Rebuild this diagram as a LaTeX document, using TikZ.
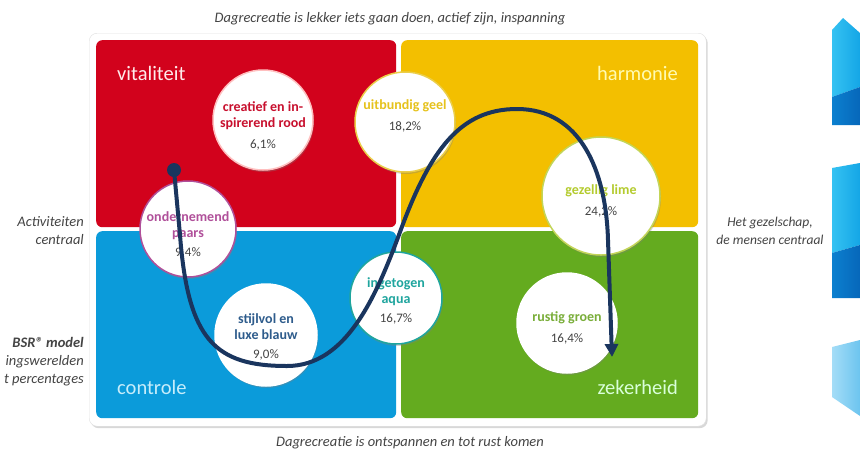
\documentclass[tikz,border=0pt]{standalone}
\usepackage{fontspec}
\setmainfont{Carlito}
\usetikzlibrary{arrows.meta,shadows}
\definecolor{cRed}{HTML}{D2021C}
\definecolor{cYel}{HTML}{F3BF00}
\definecolor{cBlu}{HTML}{0B9BDA}
\definecolor{cGrn}{HTML}{64AB1F}
\definecolor{tRed}{HTML}{C8102E}
\definecolor{tYel}{HTML}{E6C21C}
\definecolor{tLim}{HTML}{B4CB2E}
\definecolor{tPur}{HTML}{B0509A}
\definecolor{tBlu}{HTML}{2E5C8C}
\definecolor{tAqu}{HTML}{1FA59E}
\definecolor{tGrn}{HTML}{7AAE3A}
\definecolor{navy}{HTML}{1A355E}
\definecolor{side}{HTML}{444444}
\definecolor{sL1}{HTML}{35C2F2}
\definecolor{sL2}{HTML}{14A6E6}
\definecolor{sD1}{HTML}{0C80CF}
\definecolor{sD2}{HTML}{0667BA}
\definecolor{sP1}{HTML}{A4DDF7}
\definecolor{sP2}{HTML}{6CC4EF}
\newcommand{\pcfmt}{\fontsize{13}{15}\selectfont\mdseries\color{side}}
\begin{document}
\begin{tikzpicture}[x=1pt,y=-1pt,
  quad/.style={rounded corners=6pt, inner sep=0pt, anchor=north west, minimum height=187pt},
  qlabel/.style={inner sep=0pt, font=\fontsize{20.5}{22}\selectfont},
  circ/.style={circle, fill=white, inner sep=0pt, line width=1.5pt,
    drop shadow={opacity=0.35, shadow xshift=1pt, shadow yshift=-2pt}},
  ctext/.style={align=center, inner sep=0pt, font=\fontsize{14}{16}\selectfont\bfseries},
  sidetext/.style={inner sep=0pt, text=side, font=\fontsize{14.5}{18}\selectfont\itshape},
  path/.style={draw=navy, line width=4pt, line cap=round}
]
\useasboundingbox (0,0) rectangle (860,451);
\fill[white] (0,0) rectangle (860,451);

% panel
\node[rounded corners=8pt, fill=white, draw=black!12, inner sep=0pt, anchor=north west,
  minimum width=617pt, minimum height=393pt,
  drop shadow={opacity=0.3, shadow xshift=1.5pt, shadow yshift=-2pt}] (panel) at (89,33) {};

% quadrants
\node[quad, fill=cRed, minimum width=300pt] (qred) at (96,40) {};
\node[quad, fill=cYel, minimum width=297pt] (qyel) at (401,40) {};
\node[quad, fill=cBlu, minimum width=300pt] (qblu) at (96,231) {};
\node[quad, fill=cGrn, minimum width=297pt] (qgrn) at (401,231) {};

\node[qlabel, anchor=west, text=red!8] (lvit) at (117,73) {vitaliteit};
\node[qlabel, anchor=east, text=yellow!30] (lhar) at (678,73) {harmonie};
\node[qlabel, anchor=west, text=cyan!22] (lcon) at (117,387) {controle};
\node[qlabel, anchor=east, text=green!15!white] (lzek) at (678,387) {zekerheid};

% circles
\node[circ, draw=red!25, minimum size=100pt] (crood) at (263,120) {};
\node[circ, draw=tYel!80, minimum size=100pt] (cgeel) at (405,122) {};
\node[circ, draw=tLim!80, minimum size=118pt] (clime) at (601,196) {};
\node[circ, draw=tPur, minimum size=96pt] (cpaars) at (188,229) {};
\node[circ, draw=white, minimum size=102pt] (cblauw) at (266,335) {};
\node[circ, draw=tAqu, minimum size=92pt] (caqua) at (396,298) {};
\node[circ, draw=white, minimum size=100pt] (cgroen) at (567,323) {};

\node[ctext, text=tRed] (trood) at (263,126) {creatief en in-\\spirerend rood\\[5pt]{\pcfmt 6,1\%}};
\node[ctext, text=tYel] (tgeel) at (405,116) {uitbundig geel\\[5pt]{\pcfmt 18,2\%}};
\node[ctext, text=tLim] (tlime) at (601,201) {gezellig lime\\[5pt]{\pcfmt 24,2\%}};
\node[ctext, text=tPur] (tpaars) at (188,235) {ondernemend\\paars\\[3pt]{\pcfmt 9,4\%}};
\node[ctext, text=tBlu] (tblauw) at (266,337) {stijlvol en\\luxe blauw\\[3pt]{\pcfmt 9,0\%}};
\node[ctext, text=tAqu] (taqua) at (396,301) {ingetogen\\aqua\\[3pt]{\pcfmt 16,7\%}};
\node[ctext, text=tGrn] (tgroen) at (567,328) {rustig groen\\[5pt]{\pcfmt 16,4\%}};

% side texts
\node[sidetext] (ttop) at (390,19) {Dagrecreatie is lekker iets gaan doen, actief zijn, inspanning};
\node[sidetext] (tbot) at (410,443) {Dagrecreatie is ontspannen en tot rust komen};
\node[sidetext, align=right, anchor=east] (tleft) at (84,231) {Activiteiten\\centraal};
\node[sidetext, align=center, font=\fontsize{13.5}{18}\selectfont\itshape] (tright) at (770,231) {Het gezelschap,\\de mensen centraal};
\node[sidetext, align=right, anchor=east] (tbsr) at (84,362) {{\bfseries BSR® model}\\ingswerelden\\t percentages};

% right decorative shapes
\shade[left color=sL1, right color=sL2] (832,30) -- (843,18) -- (860,33) -- (860,87) -- (832,97) -- cycle;
\shade[left color=sD1, right color=sD2] (832,97) -- (860,87) -- (860,125) -- (832,125) -- cycle;
\shade[left color=sL1, right color=sL2] (832,168) -- (860,163) -- (860,245) -- (832,253) -- cycle;
\shade[left color=sD1, right color=sD2] (832,253) -- (860,245) -- (860,298) -- (832,298) -- cycle;
\shade[left color=sP1, right color=sP2] (832,347) -- (860,340) -- (860,416) -- (832,397) -- cycle;

% curve
\node[circle, fill=navy, inner sep=0pt, minimum size=14pt] (start) at (174,170) {};
\coordinate (end) at (612,357);
\draw[path, -{Triangle[width=13pt,length=13pt]}]
  (start.center) -- (180,235)
  .. controls (188,340) and (215,366) .. (287,366)
  .. controls (345,366) and (375,300) .. (400,232)
  .. controls (430,150) and (460,109) .. (517,109)
  .. controls (580,109) and (606,170) .. (608,240)
  -- (end);
\end{tikzpicture}
\end{document}
